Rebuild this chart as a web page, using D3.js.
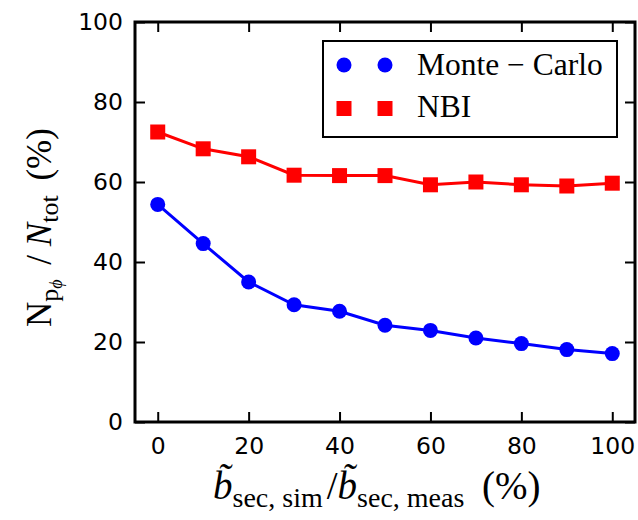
<!DOCTYPE html>
<html>
<head>
<meta charset="utf-8">
<script src="https://cdn.jsdelivr.net/npm/d3@7"></script>
<style>
  html, body { margin: 0; padding: 0; background: #fff; }
  svg { display: block; }
</style>
</head>
<body>
<svg id="chart" width="638" height="520"></svg>
<script>
// Secondary-field ratio (%) on the horizontal axis
const ratios = [0, 10, 20, 30, 40, 50, 60, 70, 80, 90, 100];
// Fraction of particles (%) for each source
const monteCarlo = [54.4, 44.6, 35.0, 29.3, 27.7, 24.2, 22.9, 21.0, 19.6, 18.1, 17.1];
const nbi = [72.5, 68.3, 66.3, 61.7, 61.6, 61.6, 59.3, 60.0, 59.3, 59.0, 59.7];
const xTicks = [0, 20, 40, 60, 80, 100];
const yTicks = [0, 20, 40, 60, 80, 100];

const svg = d3.select("#chart");
const plotLeft = 135, plotRight = 635, plotTop = 22, plotBottom = 422;

const x = d3.scaleLinear().domain([-5, 105]).range([plotLeft, plotRight]);
const y = d3.scaleLinear().domain([0, 100]).range([plotBottom, plotTop]);

const tickFont = "'DejaVu Sans', sans-serif";
const serif = "'Liberation Serif', 'Times New Roman', serif";

function styleAxis(g, showLabels) {
  g.select(".domain").remove();
  g.selectAll(".tick line").attr("stroke", "#000").attr("stroke-width", 2);
  if (showLabels) {
    g.selectAll(".tick text").attr("font-family", tickFont).attr("font-size", 23.5).attr("fill", "#000");
  } else {
    g.selectAll(".tick text").remove();
  }
}

svg.append("g").attr("transform", `translate(0,${plotBottom})`)
  .call(d3.axisBottom(x).tickValues(xTicks).tickFormat(d3.format("d")).tickSizeInner(-10).tickSizeOuter(0).tickPadding(15))
  .call(g => styleAxis(g, true));
svg.append("g").attr("transform", `translate(0,${plotTop})`)
  .call(d3.axisTop(x).tickValues(xTicks).tickSizeInner(-10).tickSizeOuter(0))
  .call(g => styleAxis(g, false));
svg.append("g").attr("transform", `translate(${plotLeft},0)`)
  .call(d3.axisLeft(y).tickValues(yTicks).tickFormat(d3.format("d")).tickSizeInner(-10).tickSizeOuter(0).tickPadding(12))
  .call(g => styleAxis(g, true));
svg.append("g").attr("transform", `translate(${plotRight},0)`)
  .call(d3.axisRight(y).tickValues(yTicks).tickSizeInner(-10).tickSizeOuter(0))
  .call(g => styleAxis(g, false));

const line = d3.line().x((d, i) => x(ratios[i])).y(d => y(d));

// NBI series: red line with square markers
svg.append("path").datum(nbi).attr("d", line)
  .attr("fill", "none").attr("stroke", "#ff0000").attr("stroke-width", 3);
svg.selectAll(".nbi").data(nbi).enter().append("rect")
  .attr("x", (d, i) => x(ratios[i]) - 7.5).attr("y", d => y(d) - 7.5)
  .attr("width", 15).attr("height", 15).attr("fill", "#ff0000");

// Monte-Carlo series: blue line with circle markers
svg.append("path").datum(monteCarlo).attr("d", line)
  .attr("fill", "none").attr("stroke", "#0000ff").attr("stroke-width", 3);
svg.selectAll(".mc").data(monteCarlo).enter().append("circle")
  .attr("cx", (d, i) => x(ratios[i])).attr("cy", d => y(d))
  .attr("r", 7.5).attr("fill", "#0000ff");

// Plot frame
svg.append("rect").attr("x", plotLeft).attr("y", plotTop)
  .attr("width", plotRight - plotLeft).attr("height", plotBottom - plotTop)
  .attr("fill", "none").attr("stroke", "#000").attr("stroke-width", 3);

// Legend
const legend = svg.append("g");
legend.append("rect").attr("x", 323).attr("y", 41).attr("width", 294).attr("height", 96)
  .attr("fill", "#fff").attr("stroke", "#000").attr("stroke-width", 2);
[344, 385].forEach(cx => {
  legend.append("circle").attr("cx", cx).attr("cy", 65).attr("r", 7.5).attr("fill", "#0000ff");
  legend.append("rect").attr("x", cx - 7.5).attr("y", 101).attr("width", 15).attr("height", 15).attr("fill", "#ff0000");
});
legend.append("text").attr("x", 417).attr("y", 75).attr("font-family", serif).attr("font-size", 31.5)
  .text("Monte \u2212 Carlo");
legend.append("text").attr("x", 417).attr("y", 117).attr("font-family", serif).attr("font-size", 31.5)
  .text("NBI");

// X axis title
const xt = svg.append("text").attr("x", 213).attr("y", 499)
  .attr("font-family", serif).attr("font-size", 39).attr("fill", "#000");
xt.append("tspan").attr("font-style", "italic").text("b\u0303");
xt.append("tspan").attr("font-size", 28).attr("dy", 8).text("sec, sim");
xt.append("tspan").attr("dy", -8).attr("dx", 4).text("/");
xt.append("tspan").attr("font-style", "italic").text("b\u0303");
xt.append("tspan").attr("font-size", 28).attr("dy", 8).text("sec, meas");
xt.append("tspan").attr("dy", -8).attr("dx", 8).text(" (%)");

// Y axis title
const yt = svg.append("text").attr("transform", "translate(51,327) rotate(-90)")
  .attr("font-family", serif).attr("font-size", 35).attr("fill", "#000");
yt.append("tspan").text("N");
yt.append("tspan").attr("font-size", 26).attr("dy", 7).text("p");
yt.append("tspan").attr("font-size", 18).attr("font-style", "italic").attr("dy", 4).text("\u03d5");
yt.append("tspan").attr("dy", -11).attr("dx", 6).text(" / ");
yt.append("tspan").attr("font-style", "italic").text("N");
yt.append("tspan").attr("font-size", 26).attr("dy", 7).text("tot");
yt.append("tspan").attr("dy", -7).attr("dx", 6).text(" (%)");
</script>
</body>
</html>
